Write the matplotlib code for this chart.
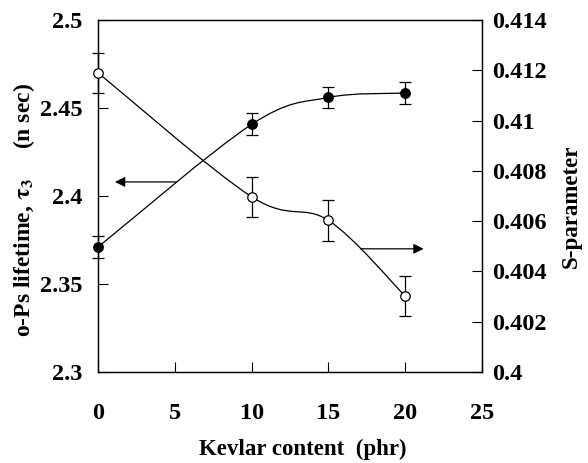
import matplotlib.pyplot as plt
import numpy as np
from matplotlib.path import Path
from matplotlib.patches import PathPatch

plt.rcParams["font.family"] = ["Liberation Serif", "DejaVu Serif"]
plt.rcParams["font.weight"] = "bold"
plt.rcParams["mathtext.fontset"] = "stix"

kevlar = [0, 10, 15, 20]

# o-Ps lifetime (left axis), filled circles
lifetime = [2.371, 2.4407, 2.456, 2.4585]
lifetime_err = [0.006, 0.0063, 0.0058, 0.0063]

# S-parameter (right axis), open circles
s_param = [0.4119, 0.40697, 0.40603, 0.40302]
s_param_err = [0.0008, 0.0008, 0.00082, 0.0008]

x_ticks = [0, 5, 10, 15, 20, 25]
left_ticks = [2.3, 2.35, 2.4, 2.45, 2.5]
left_labels = ["2.3", "2.35", "2.4", "2.45", "2.5"]
right_ticks = [0.4, 0.402, 0.404, 0.406, 0.408, 0.41, 0.412, 0.414]
right_labels = ["0.4", "0.402", "0.404", "0.406", "0.408", "0.41", "0.412", "0.414"]


def smooth_path(xs, ys):
    # Catmull-Rom style bezier through the points (like a smoothed line)
    pts = np.column_stack([xs, ys]).astype(float)
    ext = np.vstack([pts[0], pts, pts[-1]])
    verts = [pts[0]]
    codes = [Path.MOVETO]
    for i in range(len(pts) - 1):
        p0, p1, p2, p3 = ext[i], ext[i + 1], ext[i + 2], ext[i + 3]
        verts += [p1 + (p2 - p0) / 6, p2 - (p3 - p1) / 6, p2]
        codes += [Path.CURVE4] * 3
    return Path(verts, codes)


fig = plt.figure(figsize=(5.88, 4.63), dpi=100)
ax = fig.add_axes([0.1667, 0.1965, 0.653, 0.7603])
ax2 = ax.twinx()

ax.add_patch(PathPatch(smooth_path(kevlar, lifetime), fill=False, lw=0.9, color="black"))
ax2.add_patch(PathPatch(smooth_path(kevlar, s_param), fill=False, lw=0.9, color="black"))

ax.errorbar(kevlar, lifetime, yerr=lifetime_err, fmt="o", color="black", ms=6.8,
            mfc="black", mec="black", capsize=4, elinewidth=0.9, capthick=0.9,
            clip_on=False, zorder=5)
ax2.errorbar(kevlar, s_param, yerr=s_param_err, fmt="o", color="black", ms=6.8,
             mfc="white", mec="black", mew=0.9, capsize=4, elinewidth=0.9,
             capthick=0.9, clip_on=False, zorder=5)

ax.annotate("", xy=(1.1, 2.408), xytext=(5.12, 2.408),
            arrowprops=dict(arrowstyle="-|>", color="black", lw=0.9,
                            mutation_scale=15, shrinkA=0, shrinkB=0))
ax2.annotate("", xy=(21.2, 0.4049), xytext=(17.1, 0.4049),
             arrowprops=dict(arrowstyle="-|>", color="black", lw=0.9,
                             mutation_scale=15, shrinkA=0, shrinkB=0))

ax.set_xlim(0, 25)
ax.set_ylim(2.3, 2.5)
ax2.set_ylim(0.4, 0.414)

ax.set_xticks(x_ticks)
ax.set_xticklabels([str(t) for t in x_ticks])
ax.set_yticks(left_ticks)
ax.set_yticklabels(left_labels)
ax2.set_yticks(right_ticks)
ax2.set_yticklabels(right_labels)

ax.tick_params(axis="x", direction="in", length=7, width=0.8, pad=22, labelsize=17.5)
ax.tick_params(axis="y", direction="in", length=7, width=0.8, pad=11, labelsize=17.5)
ax2.tick_params(axis="y", direction="in", length=7, width=0.8, pad=7.5, labelsize=17.5)

for a in (ax, ax2):
    for sp in a.spines.values():
        sp.set_linewidth(0.9)

ax.set_xlabel("Kevlar content  (phr)", fontsize=16.5, fontweight="bold",
              labelpad=11, x=0.534)
ax.set_ylabel(r"o-Ps lifetime, $\mathbf{\tau_3}$     (n sec)", fontsize=17,
              fontweight="bold", labelpad=2, y=0.46)
ax2.set_ylabel("S-parameter", fontsize=16.5, fontweight="bold", labelpad=10, y=0.47)

fig.savefig("out.png", dpi=100)
